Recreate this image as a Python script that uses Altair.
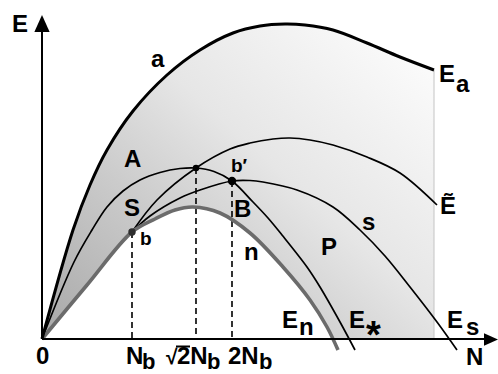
import altair as alt
import pandas as pd

# ---- curve data: N (horizontal) and E (vertical) in plot units ----
b_N, b_E = 90, 107        # point b
r2_N, r2_E = 154, 171     # top of curve A at sqrt(2) N_b
bp_N, bp_E = 190, 158     # point b'

a_N = [0, 31, 48, 65, 91, 125, 158, 191, 218, 243, 263, 291, 325, 358, 392]
a_E = [0, 109, 154, 189, 228, 264, 289, 306, 313, 315, 314, 309, 296, 282, 269]

A_N = [0, 32, 50, 65, 81, 98, 118, 138, r2_N, 172, bp_N, 211, 226, 240, 265, 278, 298, 313]
A_E = [0, 77, 109, 132, 148, 159, 166.5, 170.5, r2_E, 167.5, bp_E, 137, 121, 104, 72, 52, 17, -11]

Et_N = [b_N, 115, r2_N, 188, 208, 231, 248, 268, 291, 325, 358, 395]
Et_E = [b_E, 139, r2_E, 190, 196, 200, 201, 199, 194, 182, 166, 134]

s_N = [b_N, 108, 138, 158, bp_N, 208, 221, 255, 291, 318, 343, 368, 395, 415]
s_E = [b_E, 123, 141, 149, bp_E, 158.5, 157, 149, 132, 109, 83, 52, 17, -11]

n_N = [0, 45, b_N, 113, 133, 151, 178, 208, 241, 268, 285, 296]
n_E = [0, 54, b_E, 120, 129, 132, 126, 106, 72, 39, 12, -11]

N_right = 392             # right edge of the shaded region

# ---- annotation text ----
big_text = ["E", "a", "A", "S", "B", "n", "P", "s", "E", "Ẽ", "E", "E", "E",
            "0", "N", "2N", "2N", "N"]
big_N = [-30, 109, 82, 82, 192, 202, 279, 320, 397, 398, 240, 307, 405,
         -6, 84, 135, 186, 424]
big_E = [307, 272, 172, 123, 122, 79, 84, 109, 257, 125, 11, 11, 11,
         -25, -25, -25, -25, -26]

root_text = ["√"]
root_N = [124]
root_E = [-25]

sub_text = ["a", "n", "s"]
sub_N = [414, 257, 424]
sub_E = [247, 4, 4]

tick_sub_text = ["b", "b", "b"]
tick_sub_N = [100, 165, 217]
tick_sub_E = [-30, -30, -30]

small_text = ["b", "b′"]
small_N = [98, 189]
small_E = [94, 167]

W, H = 498, 374
xs = alt.Scale(domain=[-42, 456], nice=False, zero=False)
ys = alt.Scale(domain=[-35, 339], nice=False, zero=False)
X = lambda f="N": alt.X(f"{f}:Q", scale=xs, axis=None)
Y = lambda f="E": alt.Y(f"{f}:Q", scale=ys, axis=None)
SMOOTH = "catmull-rom"


def curve_df(ns, es):
    return pd.DataFrame({"N": ns, "E": es})


shade = alt.Gradient(
    gradient="linear",
    stops=[alt.GradientStop(color="#a8a8a8", offset=0),
           alt.GradientStop(color="#cbcbcb", offset=0.35),
           alt.GradientStop(color="#e6e6e6", offset=0.6),
           alt.GradientStop(color="#fcfcfc", offset=1)],
    x1=0, y1=1, x2=1, y2=0.1,
)

band = alt.Chart(curve_df(a_N, a_E)).mark_area(
    interpolate=SMOOTH, color=shade
).encode(x=X(), y=Y(), y2=alt.datum(0))

under_n = alt.Chart(curve_df(n_N, n_E)).mark_area(
    interpolate=SMOOTH, color="white"
).encode(x=X(), y=Y(), y2=alt.datum(0))

edge = alt.Chart(pd.DataFrame({"N": [N_right], "E": [a_E[-1]]})).mark_rule(
    color="#c4c4c4", strokeWidth=1
).encode(x=X(), y=Y(), y2=alt.datum(0))

drops = alt.Chart(pd.DataFrame({"N": [b_N, r2_N, bp_N], "E": [b_E, r2_E, bp_E]})).mark_rule(
    color="black", strokeWidth=1.6, strokeDash=[6, 4]
).encode(x=X(), y=Y(), y2=alt.datum(0))


def line(ns, es, color="black", width=1.7):
    return alt.Chart(curve_df(ns, es)).mark_line(
        interpolate=SMOOTH, color=color, strokeWidth=width
    ).encode(x=X(), y=Y())


curves = [
    line(Et_N, Et_E),
    line(s_N, s_E),
    line(A_N, A_E),
    line(n_N, n_E, color="#6b6b6b", width=3.6),
    line(a_N, a_E, width=3),
]

axes = alt.Chart(pd.DataFrame({"N": [0, 0], "E": [0, 0], "N2": [445, 0], "E2": [0, 308]})).mark_rule(
    color="black", strokeWidth=2
).encode(x=X(), y=Y(), x2="N2:Q", y2="E2:Q")

# bar of the radical sign over the 2
vinculum = alt.Chart(pd.DataFrame({"N": [134], "N2": [148], "E": [-7.5]})).mark_rule(
    color="black", strokeWidth=2
).encode(x=X(), x2="N2:Q", y=Y())

arrow_up = alt.Chart(pd.DataFrame({"N": [0], "E": [315.5]})).mark_point(
    shape="M0,-1L0.9,1L-0.9,1Z", size=289, filled=True, color="black", opacity=1
).encode(x=X(), y=Y())

arrow_right = alt.Chart(pd.DataFrame({"N": [449], "E": [-0.5]})).mark_point(
    shape="M1,0L-1,0.9L-1,-0.9Z", size=196, filled=True, color="black", opacity=1
).encode(x=X(), y=Y())

dots = alt.Chart(pd.DataFrame({
    "N": [b_N, r2_N, bp_N], "E": [b_E, r2_E, bp_E],
    "c": ["#2e2e2e", "black", "black"], "s": [55, 42, 70],
})).mark_circle(opacity=1).encode(
    x=X(), y=Y(), color=alt.Color("c:N", scale=None), size=alt.Size("s:Q", scale=None)
)


def labels(texts, ns, es, size, font="Liberation Sans"):
    return alt.Chart(pd.DataFrame({"t": texts, "N": ns, "E": es})).mark_text(
        font=font, fontWeight="bold", fontSize=size, align="left",
        baseline="alphabetic", color="black"
    ).encode(x=X(), y=Y(), text="t:N")


star = alt.Chart(pd.DataFrame({"t": ["*"], "N": [331.5], "E": [-9]})).mark_text(
    font="Liberation Sans", fontWeight="bold", fontSize=38, align="center",
    baseline="alphabetic", color="black"
).encode(x=X(), y=Y(), text="t:N")

chart = alt.layer(
    band, under_n, edge, drops, *curves, axes, arrow_up, arrow_right, dots,
    labels(big_text, big_N, big_E, 24),
    labels(root_text, root_N, root_E, 21),
    labels(sub_text, sub_N, sub_E, 24),
    labels(tick_sub_text, tick_sub_N, tick_sub_E, 22),
    labels(small_text, small_N, small_E, 19),
    star, vinculum,
).properties(
    width=W, height=H, padding=0, autosize=alt.AutoSizeParams(type="none")
).configure_view(stroke=None)

chart.save("out.html", embed_options={"renderer": "svg", "actions": False})
